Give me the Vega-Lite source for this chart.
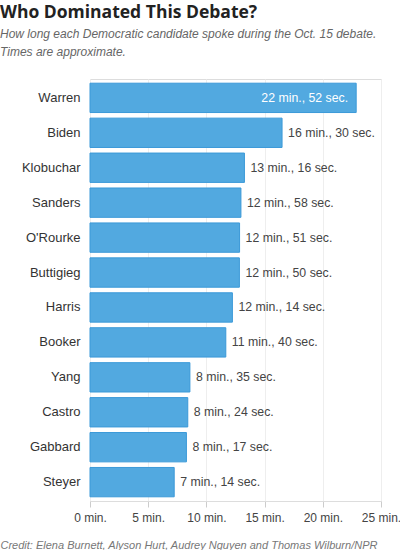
{
  "$schema": "https://vega.github.io/schema/vega-lite/v6.json",
  "width": 291,
  "height": 422,
  "padding": {"left": 0, "top": 3, "right": 0, "bottom": 0},
  "background": "white",
  "title": {
    "text": "Who Dominated This Debate?",
    "subtitle": ["How long each Democratic candidate spoke during the Oct. 15 debate.", "Times are approximate."],
    "anchor": "start",
    "frame": "group",
    "dx": -90,
    "font": "Open Sans",
    "fontSize": 17.5,
    "fontWeight": "bold",
    "color": "#222222",
    "subtitleFont": "Liberation Sans",
    "subtitleFontSize": 12,
    "subtitleFontStyle": "italic",
    "subtitleColor": "#666666",
    "subtitleLineHeight": 18,
    "subtitlePadding": 8,
    "offset": 21
  },
  "data": {
    "values": [
      {"candidate": "Warren", "minutes": 22.867, "label": "22 min., 52 sec."},
      {"candidate": "Biden", "minutes": 16.5, "label": "16 min., 30 sec."},
      {"candidate": "Klobuchar", "minutes": 13.267, "label": "13 min., 16 sec."},
      {"candidate": "Sanders", "minutes": 12.967, "label": "12 min., 58 sec."},
      {"candidate": "O'Rourke", "minutes": 12.85, "label": "12 min., 51 sec."},
      {"candidate": "Buttigieg", "minutes": 12.833, "label": "12 min., 50 sec."},
      {"candidate": "Harris", "minutes": 12.233, "label": "12 min., 14 sec."},
      {"candidate": "Booker", "minutes": 11.667, "label": "11 min., 40 sec."},
      {"candidate": "Yang", "minutes": 8.583, "label": "8 min., 35 sec."},
      {"candidate": "Castro", "minutes": 8.4, "label": "8 min., 24 sec."},
      {"candidate": "Gabbard", "minutes": 8.283, "label": "8 min., 17 sec."},
      {"candidate": "Steyer", "minutes": 7.233, "label": "7 min., 14 sec."}
    ]
  },
  "encoding": {
    "y": {
      "field": "candidate",
      "type": "nominal",
      "sort": null,
      "scale": {"paddingInner": 0.16, "paddingOuter": 0.12},
      "axis": {
        "title": null,
        "ticks": false,
        "domain": false,
        "labelPadding": 10,
        "minExtent": 85,
        "maxExtent": 85,
        "labelFont": "Liberation Sans",
        "labelFontSize": 13,
        "labelColor": "#333333"
      }
    },
    "x": {
      "field": "minutes",
      "type": "quantitative",
      "scale": {"domain": [0, 25], "nice": false},
      "axis": {
        "values": [0, 5, 10, 15, 20, 25],
        "labelExpr": "datum.value + ' min.'",
        "labelOverlap": false,
        "labelFlush": false,
        "labelFont": "Liberation Sans",
        "labelFontSize": 12,
        "labelColor": "#444444",
        "labelPadding": 5,
        "tickSize": 6,
        "tickColor": "#cccccc",
        "domainColor": "#dddddd",
        "gridColor": "#eeeeee",
        "title": "Credit: Elena Burnett, Alyson Hurt, Audrey Nguyen and Thomas Wilburn/NPR",
        "titleFont": "Liberation Sans",
        "titleFontSize": 11,
        "titleFontStyle": "italic",
        "titleFontWeight": "normal",
        "titleColor": "#777777",
        "titleAnchor": "start",
        "titleAlign": "left",
        "titleBaseline": "alphabetic",
        "titleX": -90,
        "titleY": 47
      }
    }
  },
  "layer": [
    {
      "mark": {"type": "bar", "color": "#52a9e0", "stroke": "#3b99d8", "strokeWidth": 1}
    },
    {
      "transform": [{"filter": "datum.minutes > 20"}],
      "mark": {"type": "text", "align": "right", "dx": -8, "color": "white", "font": "Liberation Sans", "fontSize": 12.3},
      "encoding": {"text": {"field": "label"}}
    },
    {
      "transform": [{"filter": "datum.minutes <= 20"}],
      "mark": {"type": "text", "align": "left", "dx": 6, "color": "#444444", "font": "Liberation Sans", "fontSize": 12.3},
      "encoding": {"text": {"field": "label"}}
    }
  ]
}
